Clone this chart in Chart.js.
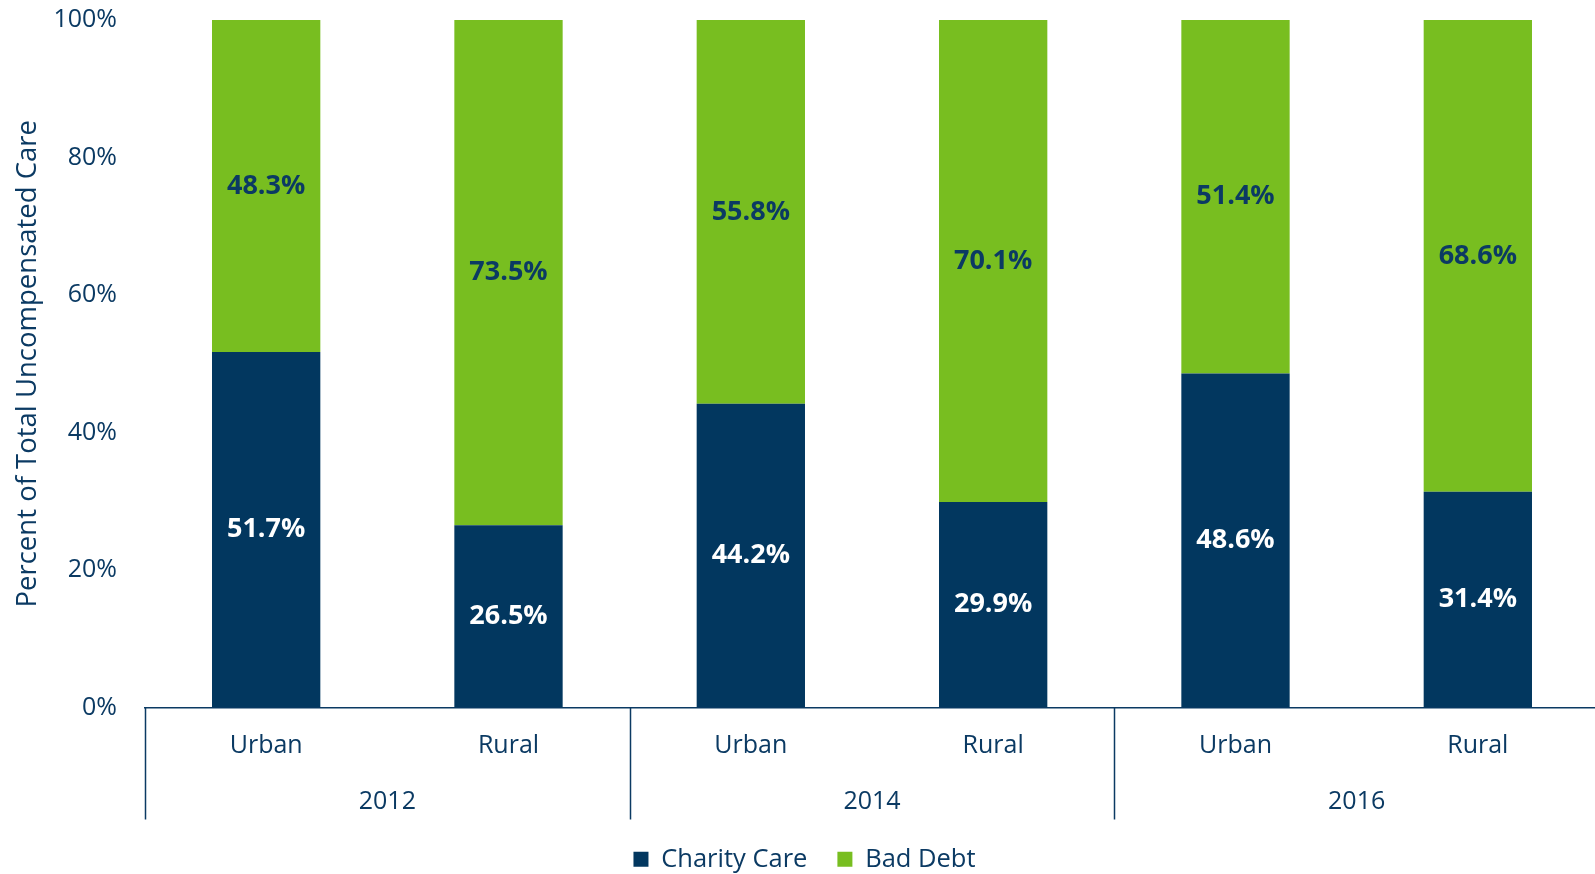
<!DOCTYPE html>
<html>
<head>
<meta charset="utf-8">
<script src="https://cdn.jsdelivr.net/npm/chart.js@4.4.1/dist/chart.umd.min.js"></script>
<style>
  html, body { margin: 0; padding: 0; background: #ffffff; overflow: hidden; }
  #wrap { width: 1595px; height: 874px; overflow: hidden; }
</style>
</head>
<body>
<div id="wrap"><canvas id="c" width="1599" height="874"></canvas></div>
<script>
const categories = ['Urban', 'Rural', 'Urban', 'Rural', 'Urban', 'Rural'];
const years = ['2012', '2014', '2016'];
const charityCare = [51.7, 26.5, 44.2, 29.9, 48.6, 31.4];
const badDebt = [48.3, 73.5, 55.8, 70.1, 51.4, 68.6];
const yTicks = [0, 20, 40, 60, 80, 100];
const seriesNames = ['Charity Care', 'Bad Debt'];

const NAVY = '#02375f';
const GREEN = '#78be20';
const TEXT = '#0b3a63';
const FONT = "'Open Sans', 'DejaVu Sans', sans-serif";

const valueLabels = {
  id: 'valueLabels',
  afterDatasetsDraw(chart) {
    const ctx = chart.ctx;
    ctx.save();
    ctx.font = "bold 27px " + FONT;
    ctx.textAlign = 'center';
    ctx.textBaseline = 'middle';
    chart.data.datasets.forEach((ds, di) => {
      const meta = chart.getDatasetMeta(di);
      ctx.fillStyle = di === 0 ? '#ffffff' : TEXT;
      meta.data.forEach((el, i) => {
        const y = (el.y + el.base) / 2;
        ctx.fillText(ds.data[i].toFixed(1) + '%', el.x, y);
      });
    });
    ctx.restore();
  }
};

const groupSeparators = {
  id: 'groupSeparators',
  afterDraw(chart) {
    const xs = chart.scales.x;
    const ctx = chart.ctx;
    const step = (xs.right - xs.left) / categories.length;
    ctx.save();
    ctx.strokeStyle = TEXT;
    ctx.lineWidth = 1.5;
    for (let g = 0; g <= years.length; g++) {
      const x = Math.round(xs.left + g * 2 * step) + 0.5;
      ctx.beginPath();
      ctx.moveTo(x, xs.top);
      ctx.lineTo(x, xs.top + 112);
      ctx.stroke();
    }
    ctx.restore();
  }
};

new Chart(document.getElementById('c'), {
  type: 'bar',
  data: {
    labels: categories,
    datasets: [
      { label: seriesNames[0], data: charityCare, backgroundColor: NAVY, borderWidth: 0 },
      { label: seriesNames[1], data: badDebt, backgroundColor: GREEN, borderWidth: 0 }
    ]
  },
  options: {
    responsive: false,
    animation: false,
    devicePixelRatio: 1,
    layout: { padding: { left: 10, right: 0, top: 20, bottom: -8 } },
    datasets: { bar: { categoryPercentage: 1.0, barPercentage: 0.447 } },
    plugins: {
      tooltip: { enabled: false },
      legend: {
        position: 'bottom',
        labels: {
          boxWidth: 15,
          boxHeight: 15,
          padding: 30,
          color: TEXT,
          font: { family: FONT, size: 25.5 }
        }
      }
    },
    scales: {
      x: {
        stacked: true,
        position: 'bottom',
        grid: { display: false, drawTicks: false },
        border: { display: true, color: TEXT, width: 1.5 },
        ticks: { color: TEXT, padding: 23, font: { family: FONT, size: 25 }, maxRotation: 0 },
        afterFit(s) { s.height = 56; s.paddingLeft = 0; s.paddingRight = 0; }
      },
      x2: {
        type: 'category',
        labels: years,
        position: 'bottom',
        offset: true,
        grid: { display: false, drawTicks: false },
        border: { display: false },
        ticks: { color: TEXT, padding: 23, font: { family: FONT, size: 25 }, maxRotation: 0 },
        afterFit(s) { s.height = 53; s.paddingLeft = 0; s.paddingRight = 0; }
      },
      y: {
        stacked: true,
        min: 0,
        max: 100,
        grid: { display: false, drawTicks: false },
        border: { display: false },
        afterBuildTicks(s) { s.ticks = yTicks.map(v => ({ value: v })); },
        ticks: {
          color: TEXT,
          padding: 28,
          font: { family: FONT, size: 25 },
          callback: v => v + '%'
        },
        title: {
          display: true,
          text: 'Percent of Total Uncompensated Care',
          color: TEXT,
          font: { family: FONT, size: 27.5 },
          padding: { top: 2, bottom: 0 }
        },
        afterFit(s) { s.width = 135; s.paddingTop = 0; s.paddingBottom = 0; }
      }
    }
  },
  plugins: [valueLabels, groupSeparators]
});
</script>
</body>
</html>
